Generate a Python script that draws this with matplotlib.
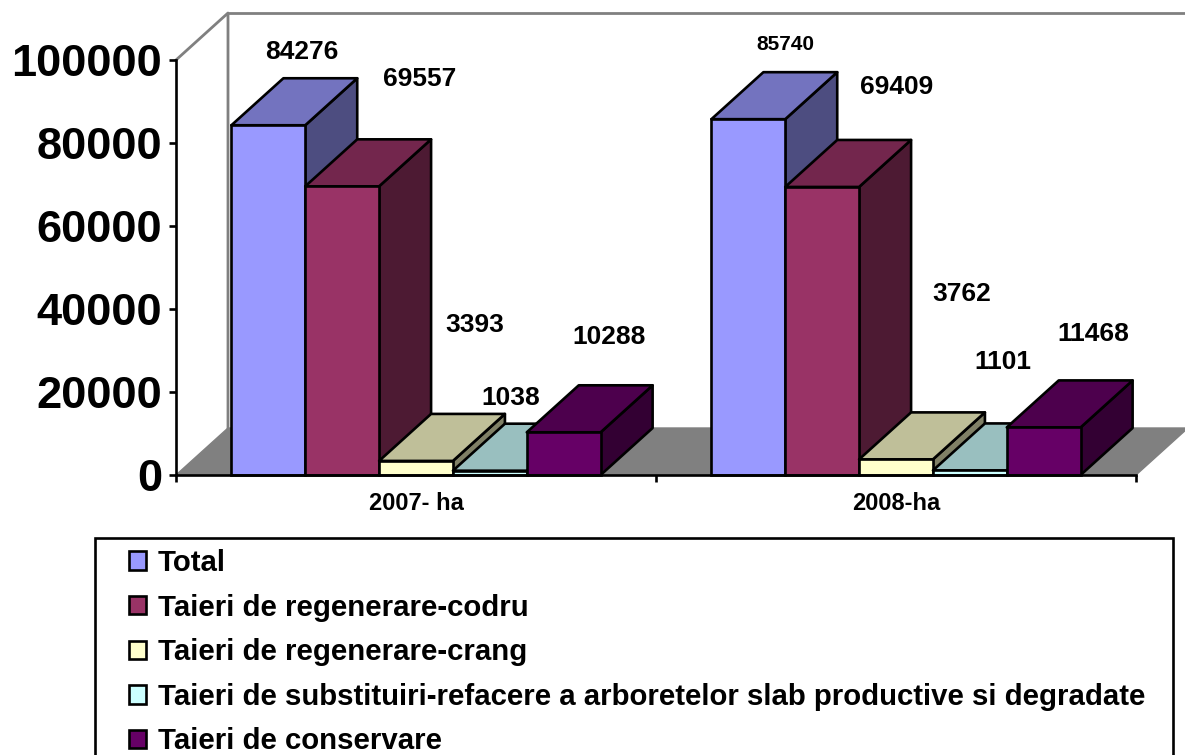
import matplotlib
matplotlib.use("Agg")
import matplotlib.pyplot as plt
from matplotlib.patches import Patch, Polygon, Rectangle

plt.rcParams['font.family'] = ['Liberation Sans', 'DejaVu Sans']
plt.rcParams['font.weight'] = 'bold'

categories = ['2007- ha', '2008-ha']
series_names = ['Total', 'Taieri de regenerare-codru', 'Taieri de regenerare-crang',
                'Taieri de substituiri-refacere a arboretelor slab productive si degradate',
                'Taieri de conservare']
total = [84276, 85740]
codru = [69557, 69409]
crang = [3393, 3762]
substituiri = [1038, 1101]
conservare = [10288, 11468]
y_ticks = [0, 20000, 40000, 60000, 80000, 100000]

front_colors = ['#9999FF', '#993366', '#FFFFCC', '#CCFFFF', '#660066']
top_colors = ['#7373BF', '#73264D', '#BFBF99', '#99BFBF', '#4D004D']
side_colors = ['#4D4D80', '#4D1A33', '#808066', '#668080', '#330033']

# posiciones de las etiquetas en pixeles (movidas a mano en el original)
label_pos = [[(302, 52), (785, 44)], [(420, 79), (897, 87)], [(475, 325), (962, 294)],
             [(511, 398), (1003, 362)], [(609, 337), (1093, 334)]]
label_size = [[19, 15], [19, 19], [19, 19], [19, 19], [19, 19]]

W, H = 1185, 755
fig = plt.figure(figsize=(W / 100, H / 100), dpi=100)
ax = fig.add_axes([176 / W, (H - 475) / H, 960 / W, 415 / H])
ax.set_xlim(0, 2)
ax.set_ylim(0, 100000)

# profundidad del efecto 3D en unidades de datos
dx = 52 / 480
dy = 47 / 415 * 100000
gray = '#808080'
lw = 1.9

# suelo y paredes
ax.add_patch(Polygon([(0, 0), (2, 0), (2 + dx, dy), (dx, dy)], fc=gray, ec=gray, lw=1, clip_on=False, zorder=1))
ax.plot([0, dx, dx], [100000, 100000 + dy, dy], color=gray, lw=2, clip_on=False, zorder=1)
ax.plot([dx, 2 + dx], [100000 + dy, 100000 + dy], color=gray, lw=2, clip_on=False, zorder=1)

series = [total, codru, crang, substituiri, conservare]
bar_w = 1 / 6.5
z = 2
for i, values in enumerate(series):
    for j, v in enumerate(values):
        x0 = j + 0.75 * bar_w + i * bar_w
        x1 = x0 + bar_w
        ax.bar(x0, v, bar_w, align='edge', color=front_colors[i], edgecolor='black', lw=lw, clip_on=False, zorder=z + 2)
        ax.add_patch(Polygon([(x1, 0), (x1 + dx, dy), (x1 + dx, v + dy), (x1, v)], fc=side_colors[i], ec='black',
                             lw=lw, joinstyle='round', clip_on=False, zorder=z))
        ax.add_patch(Polygon([(x0, v), (x1, v), (x1 + dx, v + dy), (x0 + dx, v + dy)], fc=top_colors[i], ec='black',
                             lw=lw, joinstyle='round', clip_on=False, zorder=z + 1))
        z += 3

for s in ['top', 'right']:
    ax.spines[s].set_visible(False)
for s in ['left', 'bottom']:
    ax.spines[s].set_linewidth(lw)
    ax.spines[s].set_zorder(100)
ax.set_facecolor('none')

ax.set_yticks(y_ticks)
ax.set_yticklabels([str(t) for t in y_ticks], fontsize=32.6, fontweight='bold')
ax.tick_params(axis='y', length=5, width=lw, pad=5)
ax.set_xticks([0, 1, 2])
ax.set_xticklabels([])
ax.tick_params(axis='x', length=5, width=lw)
for j, c in enumerate(categories):
    ax.annotate(c, (j + 0.5, 0), xytext=(0, -28), xycoords='data', textcoords='offset pixels',
                ha='center', va='center', fontsize=17, fontweight='bold', annotation_clip=False)

# etiquetas de datos
for i, values in enumerate(series):
    for j, v in enumerate(values):
        px, py = label_pos[i][j]
        fig.text(px / W, 1 - py / H, str(v), ha='center', va='center', fontsize=label_size[i][j], fontweight='bold')

# leyenda con marco hasta el borde inferior
fig.add_artist(Rectangle((95 / W, -5 / H), 1078 / W, (H - 538 + 5) / H, transform=fig.transFigure,
                         fc='white', ec='black', lw=lw))
handles = [Patch(fc=c, ec='black', lw=lw) for c in front_colors]
leg = fig.legend(handles, series_names, loc='upper left', bbox_to_anchor=(129 / W, 1 - 549 / H),
                 bbox_transform=fig.transFigure, frameon=False, fontsize=21.15, handlelength=0.58,
                 handleheight=0.58, handletextpad=0.4, borderpad=0, borderaxespad=0, labelspacing=0.565)
leg.set_zorder(200)

fig.savefig('out.png', dpi=100)
